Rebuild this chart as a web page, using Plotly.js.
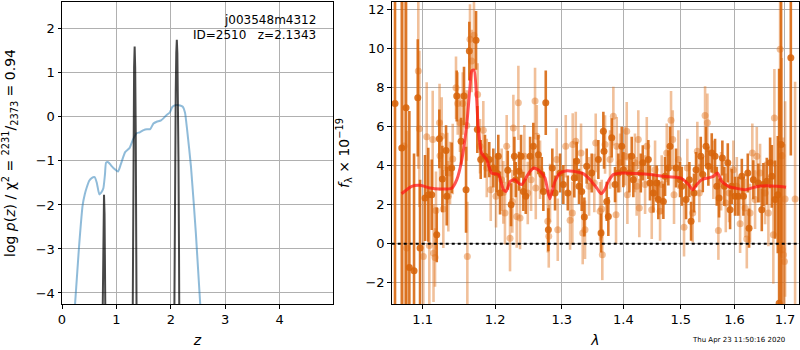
<!DOCTYPE html>
<html>
<head>
<meta charset="utf-8">
<script src="https://cdn.plot.ly/plotly-3.0.1.min.js"></script>
<style>
html,body{margin:0;padding:0;background:#fff;}
#chart{width:800px;height:350px;}
</style>
</head>
<body>
<div id="chart"></div>
<script>
// ---- Left panel: log p(z) ----
const zGrid = [0.24,0.31,0.38,0.42,0.45,0.50,0.545,0.60,0.64,0.686,0.72,0.76,0.79,0.81,0.85,0.90,0.96,1.03,1.08,1.16,1.24,1.31,1.37,1.43,1.50,1.56,1.62,1.68,1.74,1.82,1.92,1.98,2.03,2.10,2.17,2.22,2.26,2.30,2.37,2.46,2.54];
const logPz = [-4.25,-3.0,-2.0,-1.75,-1.62,-1.45,-1.39,-1.37,-1.5,-1.76,-1.72,-1.62,-1.3,-1.04,-1.03,-1.1,-1.18,-1.24,-1.08,-0.8,-0.71,-0.5,-0.37,-0.35,-0.3,-0.28,-0.28,-0.15,-0.11,-0.08,0.04,0.1,0.23,0.27,0.26,0.23,0.1,-0.3,-1.13,-2.64,-4.25];
const zSpike = [0.748,0.752,0.762,0.772,0.782,0.792,0.796,null,1.300,1.305,1.315,1.325,1.335,1.345,1.355,1.365,1.370,null,2.065,2.07,2.08,2.09,2.10,2.11,2.12,2.13,2.14,2.15,2.155];
const logPzSpike = [-4.4,-3.49,-2.2,-1.77,-2.2,-3.49,-4.4,null,-4.4,-2.7,-0.31,1.12,1.60,1.12,-0.31,-2.7,-4.4,null,-4.4,-2.99,-0.92,0.56,1.45,1.75,1.45,0.56,-0.92,-2.99,-4.4];

// ---- Right panel: spectrum ----
const lamModel = [1.0725,1.0856,1.0967,1.1096,1.123,1.139,1.146,1.153,1.160,1.1644,1.1668,1.1700,1.1737,1.176,1.1805,1.1878,1.195,1.205,1.212,1.216,1.222,1.229,1.234,1.239,1.2466,1.2515,1.2575,1.2665,1.274,1.2815,1.2895,1.2975,1.308,1.318,1.334,1.345,1.356,1.363,1.369,1.375,1.383,1.400,1.4225,1.4455,1.469,1.493,1.505,1.514,1.5215,1.529,1.538,1.5505,1.560,1.5675,1.5755,1.5885,1.6015,1.621,1.6405,1.6637,1.6837,1.7022];
const fModel = [2.56,2.94,2.99,2.85,2.80,2.84,3.28,4.31,6.19,8.07,8.84,8.89,7.38,5.85,4.65,4.31,3.62,3.54,2.77,2.68,3.20,3.28,3.11,3.03,3.45,3.71,3.88,3.71,3.37,2.30,3.20,3.62,3.74,3.71,3.59,3.28,2.85,2.56,2.77,3.20,3.54,3.62,3.59,3.54,3.45,3.40,3.28,3.03,2.77,3.03,3.28,3.37,3.45,3.62,3.20,2.94,2.85,2.77,2.91,2.97,2.94,2.89];

// dark (first) spectrum
const lamA = [1.0640,1.0727,1.0782,1.0825,1.0886,1.0935,1.0965,1.1031,1.1074,1.1120,1.1187,1.1222,1.1263,1.1313,1.1322,1.1390,1.1459,1.1519,1.1560,1.1588,1.1634,1.1728,1.1746,1.1794,1.1855,1.1916,1.1974,1.2023,1.2046,1.2071,1.2184,1.2232,1.2281,1.2301,1.2350,1.2380,1.2414,1.2450,1.2515,1.2564,1.2640,1.2692,1.2716,1.2753,1.2793,1.2854,1.2896,1.2974,1.3025,1.3095,1.3198,1.3236,1.3273,1.3316,1.3358,1.3396,1.3477,1.3585,1.3629,1.3667,1.3678,1.3723,1.3749,1.3805,1.3860,1.3916,1.3972,1.3999,1.4101,1.4141,1.4168,1.4296,1.4330,1.4426,1.4454,1.4513,1.4572,1.4600,1.4689,1.4719,1.4777,1.4807,1.4914,1.4986,1.5017,1.5095,1.5155,1.5186,1.5240,1.5277,1.5364,1.5401,1.5462,1.5505,1.5568,1.5630,1.5663,1.5706,1.5768,1.5806,1.5871,1.5915,1.5947,1.6011,1.6075,1.6141,1.6172,1.6257,1.6282,1.6366,1.6465,1.6533,1.6565,1.6633,1.6699,1.6733,1.6799,1.6854,1.6881,1.6921,1.7120];
const fA = [7.18,4.90,6.96,-1.21,-1.38,7.47,-0.22,2.34,2.51,2.51,0.46,5.37,3.32,4.77,2.43,3.88,7.56,5.25,7.56,2.77,9.86,10.41,5.85,4.31,4.48,4.31,3.88,3.62,4.48,2.60,3.76,2.00,4.48,3.28,3.71,4.48,2.68,2.43,4.48,4.99,4.56,3.54,2.68,7.21,0.72,3.88,2.60,3.62,3.03,2.60,3.37,4.22,2.94,2.68,1.37,3.97,3.62,4.31,0.55,5.76,4.74,2.17,1.40,5.42,3.03,3.62,4.99,3.79,3.62,4.48,3.28,3.62,4.14,4.31,3.11,2.60,3.11,2.26,2.17,3.45,3.88,4.99,3.88,3.28,2.94,2.26,3.28,1.15,2.60,3.79,4.48,3.54,4.99,3.97,4.65,4.48,2.94,2.34,4.39,2.94,4.14,1.74,2.94,2.43,2.43,3.45,2.43,3.62,0.80,3.28,3.11,1.74,3.03,3.20,4.14,3.45,2.26,2.51,-3.04,5.08,9.52];
const errA = [12,10,12,8,6,3.0,3.5,2.2,2.4,1.8,1.4,1.5,1.7,1.3,1.5,1.3,1.3,1.2,1.5,2.2,1.5,1.5,1.2,1.0,1.1,0.9,1.0,1.0,1.1,1.1,1.0,1.1,1.0,0.9,1.0,1.1,1.0,0.9,1.0,1.2,1.0,0.9,1.0,1.65,1.1,1.0,0.9,1.0,1.0,0.9,1.0,1.0,0.9,1.0,1.0,0.9,1.0,1.0,1.0,1.0,0.9,1.0,1.0,1.0,0.9,1.0,1.0,0.9,1.0,1.0,0.9,1.0,0.9,1.0,0.9,1.0,0.9,1.0,0.9,1.0,0.9,1.0,1.0,0.9,1.0,1.0,0.9,1.0,1.0,0.9,1.0,0.9,1.0,1.0,1.0,0.9,1.0,1.0,0.9,1.0,1.0,1.0,0.9,1.0,1.0,0.9,1.0,1.0,1.0,1.0,1.0,1.1,1.1,1.2,1.3,1.6,2.0,3.0,12,9,5];

// light (second) spectrum
const lamB = [1.0756,1.0791,1.0942,1.0956,1.1008,1.1053,1.1088,1.1133,1.1144,1.1164,1.1177,1.1225,1.1231,1.1254,1.1276,1.1330,1.1344,1.1367,1.1404,1.1449,1.1473,1.1504,1.1542,1.1598,1.1606,1.1643,1.1667,1.1699,1.1750,1.1784,1.1831,1.1880,1.1937,1.2013,1.2095,1.2119,1.2143,1.2168,1.2217,1.2251,1.2266,1.2316,1.2340,1.2365,1.2429,1.2480,1.2530,1.2590,1.2601,1.2616,1.2666,1.2784,1.2799,1.2819,1.2922,1.2938,1.3063,1.3131,1.3167,1.3173,1.3221,1.3305,1.3332,1.3369,1.3434,1.3519,1.3542,1.3613,1.3640,1.3650,1.3695,1.3777,1.3832,1.3877,1.3888,1.3944,1.4027,1.4056,1.4067,1.4196,1.4225,1.4253,1.4270,1.4370,1.4399,1.4485,1.4543,1.4631,1.4660,1.4749,1.4825,1.4855,1.4878,1.4956,1.5058,1.5118,1.5216,1.5301,1.5338,1.5444,1.5487,1.5598,1.5693,1.5744,1.5833,1.5896,1.5978,1.6044,1.6108,1.6205,1.6238,1.6302,1.6346,1.6400,1.6434,1.6499,1.6599,1.6665,1.6764,1.6785,1.6901,1.6935,1.6947,1.6968,1.6989,1.7003,1.7208];
const fB = [5.00,-0.22,8.84,5.88,-0.65,5.47,-0.09,5.33,-0.48,-0.70,1.70,6.19,4.51,5.50,1.78,3.88,2.43,3.62,4.34,7.98,7.18,6.19,7.18,6.05,-0.65,10.46,9.35,10.67,7.64,4.99,5.81,3.88,2.77,2.43,3.28,2.63,1.57,4.99,0.29,2.17,5.93,1.40,7.21,1.32,4.48,2.60,3.28,7.30,2.85,5.50,3.79,1.15,0.38,2.60,4.31,0.72,4.99,1.20,1.57,5.08,5.25,4.65,0.55,0.72,2.94,3.11,5.16,1.66,1.78,-0.56,5.08,4.31,6.53,1.49,4.99,4.14,4.48,5.76,2.51,4.14,2.94,5.33,1.83,3.03,4.99,1.74,3.79,1.66,3.03,4.65,6.32,5.33,2.51,4.31,0.85,3.88,1.57,4.74,2.60,6.56,6.19,3.79,0.68,3.20,2.09,2.60,3.79,2.94,1.03,1.83,0.24,1.57,4.65,2.26,4.48,3.62,2.60,1.57,0.46,6.44,9.95,4.51,-0.31,-0.56,-0.91,2.29,2.29];
const errB = [10,6,5,4,3,2.8,3,2.5,2.5,1.5,2,2,1.8,2,2,1.8,1.8,1.6,1.8,1.6,1.6,1.5,1.6,1.8,2.8,1.8,1.6,1.8,1.6,1.4,1.5,1.5,1.6,1.6,1.6,1.6,1.6,1.6,1.7,1.6,1.7,1.6,1.9,1.6,1.6,1.6,1.6,1.7,1.6,1.6,1.5,1.6,1.6,1.5,1.6,1.6,1.6,1.5,1.6,1.6,1.5,1.5,1.6,1.5,1.5,1.5,1.5,1.5,1.5,1.3,1.5,1.5,1.5,1.5,1.5,1.5,1.5,1.5,1.5,1.5,1.5,1.5,1.5,1.5,1.5,1.5,1.5,1.5,1.5,1.5,1.5,1.5,1.5,1.5,1.5,1.5,1.5,1.5,1.5,1.5,1.5,1.5,1.5,1.5,1.5,1.5,1.5,1.5,1.5,1.5,1.5,1.5,1.5,1.5,1.5,1.5,1.6,1.7,2.5,2.5,4,5,5,6,6,5,6];

const lamTicks = [1.1,1.2,1.3,1.4,1.5,1.6,1.7];
const lamTickText = ['1.1','1.2','1.3','1.4','1.5','1.6','1.7'];

const FONT = 'DejaVu Sans, sans-serif';
const DARK = 'rgba(215,100,10,0.88)';
const LIGHT = 'rgba(225,115,30,0.45)';

const traces = [
  {x: zGrid, y: logPz, xaxis:'x', yaxis:'y', mode:'lines', type:'scatter',
   line:{color:'rgba(31,119,180,0.5)', width:2, shape:'spline', smoothing:0.5}, hoverinfo:'skip'},
  {x: zSpike, y: logPzSpike, xaxis:'x', yaxis:'y', mode:'lines', type:'scatter',
   line:{color:'rgba(0,0,0,0.72)', width:2}, connectgaps:false, hoverinfo:'skip'},
  {x: lamB, y: fB, xaxis:'x2', yaxis:'y2', mode:'markers', type:'scatter',
   marker:{color:LIGHT, size:7}, error_y:{type:'data', array:errB, visible:true, color:LIGHT, thickness:2.6, width:0}},
  {x: lamA, y: fA, xaxis:'x2', yaxis:'y2', mode:'markers', type:'scatter',
   marker:{color:DARK, size:7}, error_y:{type:'data', array:errA, visible:true, color:DARK, thickness:2.6, width:0}},
  {x: lamModel, y: fModel, xaxis:'x2', yaxis:'y2', mode:'lines', type:'scatter',
   line:{color:'rgba(255,20,20,0.72)', width:3, shape:'spline', smoothing:0.6}, hoverinfo:'skip'}
];

const axisCommon = {
  showgrid:true, gridcolor:'#b0b0b0', gridwidth:1,
  showline:true, mirror:true, linecolor:'black', linewidth:1,
  ticks:'outside', ticklen:3.5, tickwidth:1, tickcolor:'black',
  zeroline:false, tickfont:{family:FONT, size:13, color:'black'}
};

const layout = {
  width:800, height:350,
  margin:{l:62, r:1, t:2, b:46},
  paper_bgcolor:'white', plot_bgcolor:'white',
  showlegend:false,
  font:{family:FONT, size:13, color:'black'},
  xaxis: Object.assign({}, axisCommon, {domain:[0,0.3677], range:[0,4.98], dtick:1, anchor:'y',
    title:{text:'<i>z</i>', font:{family:FONT, size:14}, standoff:9}}),
  yaxis: Object.assign({}, axisCommon, {domain:[0,1], range:[-4.25,2.61], dtick:1, anchor:'x',
    title:{text:'log <i>p</i>(<i>z</i>) / χ<sup>2</sup> = <sup>2231</sup>/<sub>2373</sub> = 0.94', font:{family:FONT, size:14}, standoff:16}}),
  xaxis2: Object.assign({}, axisCommon, {domain:[0.4474,1], type:'log', range:[0.02523,0.23777],
    tickvals:lamTicks, ticktext:lamTickText, anchor:'y2',
    title:{text:'<i>λ</i>', font:{family:FONT, size:14}, standoff:9}}),
  yaxis2: Object.assign({}, axisCommon, {domain:[0,1], range:[-3.08,12.37], dtick:2, anchor:'x2',
    title:{text:'<i>f</i><sub>λ</sub> × 10<sup>−19</sup>', font:{family:FONT, size:14}, standoff:12}}),
  shapes:[
    {type:'line', xref:'x2 domain', yref:'y2', x0:0, x1:1, y0:0, y1:0,
     line:{color:'black', width:2, dash:'dot'}}
  ],
  annotations:[
    {text:'j003548m4312', xref:'paper', yref:'paper', x:0.3474, y:0.942, xanchor:'right', yanchor:'middle', showarrow:false, font:{family:FONT, size:12, color:'black'}},
    {text:'ID=2510&nbsp;&nbsp;&nbsp;z=2.1343', xref:'paper', yref:'paper', x:0.3474, y:0.892, xanchor:'right', yanchor:'middle', showarrow:false, font:{family:FONT, size:12, color:'black'}},
    {text:'Thu Apr 23 11:50:16 2020', xref:'paper', yref:'paper', x:0.9837, y:-0.119, xanchor:'right', yanchor:'middle', showarrow:false, font:{family:FONT, size:7, color:'black'}}
  ]
};

Plotly.newPlot('chart', traces, layout, {displayModeBar:false, staticPlot:true});
</script>
</body>
</html>
